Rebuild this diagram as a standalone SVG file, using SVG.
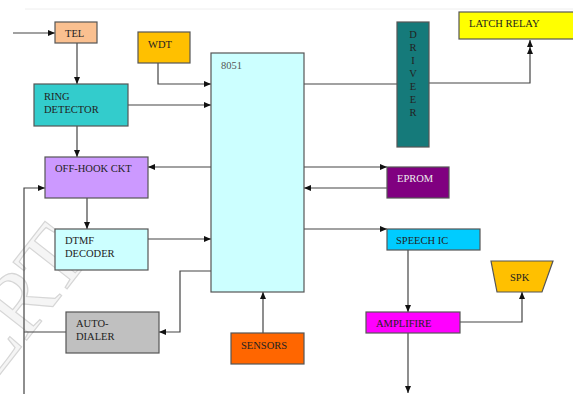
<svg xmlns="http://www.w3.org/2000/svg" width="573" height="394" viewBox="0 0 573 394">
<style>
.box{stroke:#555;stroke-width:1.2}
.t{font-family:"Liberation Serif","DejaVu Serif",serif;font-size:10.5px;fill:#222}
.ln{fill:none;stroke:#444;stroke-width:1.2}
.wm{font-family:"Liberation Serif",serif;font-size:90px;fill:#f5f5f5;stroke:#d6d6d6;stroke-width:1.2}
</style>
<defs>
<marker id="ah" markerWidth="8" markerHeight="8" refX="7" refY="4" orient="auto" markerUnits="userSpaceOnUse">
<path d="M0,1 L7,4 L0,7 Z" fill="#111"/>
</marker>
</defs>
<rect width="573" height="394" fill="#fff"/>
<line x1="25" y1="9" x2="573" y2="9" stroke="#eee" stroke-width="1"/>
<text class="wm" transform="translate(-9,386) rotate(-52)">ERT</text>

<g id="connectors">
<line class="ln" x1="13" y1="33" x2="55" y2="33" marker-end="url(#ah)"/>
<line class="ln" x1="77" y1="43" x2="77" y2="84" marker-end="url(#ah)"/>
<polyline class="ln" points="158,63 158,84 211,84" marker-end="url(#ah)"/>
<line class="ln" x1="128" y1="105" x2="211" y2="105" marker-end="url(#ah)"/>
<line class="ln" x1="304" y1="84" x2="397" y2="84"/>
<polyline class="ln" points="429,83 530,83 530,47" marker-end="url(#ah)"/>
<line class="ln" x1="530" y1="47" x2="530" y2="40" marker-end="url(#ah)"/>
<line class="ln" x1="77" y1="126" x2="77" y2="157" marker-end="url(#ah)"/>
<line class="ln" x1="211" y1="167" x2="148" y2="167" marker-end="url(#ah)"/>
<polyline class="ln" points="24,394 24,188 45,188" marker-end="url(#ah)"/>
<line class="ln" x1="87" y1="198" x2="87" y2="229" marker-end="url(#ah)"/>
<line class="ln" x1="148" y1="239" x2="211" y2="239" marker-end="url(#ah)"/>
<line class="ln" x1="304" y1="167" x2="387" y2="167" marker-end="url(#ah)"/>
<line class="ln" x1="387" y1="188" x2="304" y2="188" marker-end="url(#ah)"/>
<line class="ln" x1="304" y1="229" x2="387" y2="229" marker-end="url(#ah)"/>
<line class="ln" x1="408" y1="250" x2="408" y2="312" marker-end="url(#ah)"/>
<line class="ln" x1="408" y1="333" x2="408" y2="393" marker-end="url(#ah)"/>
<polyline class="ln" points="460,322 522,322 522,292" marker-end="url(#ah)"/>
<line class="ln" x1="263" y1="333" x2="263" y2="292" marker-end="url(#ah)"/>
<polyline class="ln" points="211,271 180,271 180,332 159,332" marker-end="url(#ah)"/>
<line class="ln" x1="66" y1="332" x2="24" y2="332"/>
</g>

<g id="tel"><rect class="box" x="55" y="22" width="42" height="21" fill="#FAC090"/><text class="t" x="65" y="37">TEL</text></g>
<g id="wdt"><rect class="box" x="138" y="32" width="52" height="31" fill="#FFC000"/><text class="t" x="148" y="48">WDT</text></g>
<g id="ring"><rect class="box" x="34" y="84" width="94" height="42" fill="#33CCCC"/><text class="t" x="44" y="100">RING</text><text class="t" x="44" y="113">DETECTOR</text></g>
<g id="mcu"><rect class="box" x="211" y="53" width="93" height="239" fill="#CCFFFF"/><text class="t" x="221" y="69" style="fill:#555">8051</text></g>
<g id="driver"><rect class="box" x="397" y="22" width="32" height="125" fill="#157A7A"/>
<g class="t" text-anchor="middle"><text x="413" y="38">D</text><text x="413" y="51">R</text><text x="413" y="64">I</text><text x="413" y="77">V</text><text x="413" y="90">E</text><text x="413" y="103">E</text><text x="413" y="116">R</text></g></g>
<g id="latch"><rect class="box" x="459" y="12" width="116" height="27" fill="#FFFF00"/><text class="t" x="469" y="27">LATCH RELAY</text></g>
<g id="offhook"><rect class="box" x="45" y="157" width="103" height="41" fill="#CC99FF"/><text class="t" x="55" y="172">OFF-HOOK  CKT</text></g>
<g id="dtmf"><rect class="box" x="55" y="229" width="93" height="41" fill="#CCFFFF"/><text class="t" x="65" y="244">DTMF</text><text class="t" x="65" y="257">DECODER</text></g>
<g id="eprom"><rect class="box" x="387" y="167" width="62" height="31" fill="#800080"/><text class="t" x="397" y="182" style="fill:#eee">EPROM</text></g>
<g id="speech"><rect class="box" x="387" y="229" width="93" height="21" fill="#00CCFF"/><text class="t" x="396" y="244">SPEECH IC</text></g>
<g id="spk"><polygon class="box" points="491,261 553,261 542,292 497,292" fill="#FFC000"/><text class="t" x="510" y="281">SPK</text></g>
<g id="amp"><rect class="box" x="366" y="312" width="94" height="21" fill="#FF00FF"/><text class="t" x="376" y="327">AMPLIFIRE</text></g>
<g id="sensors"><rect class="box" x="231" y="333" width="73" height="31" fill="#FF6600"/><text class="t" x="241" y="349">SENSORS</text></g>
<g id="autodialer"><rect class="box" x="66" y="312" width="93" height="41" fill="#C0C0C0"/><text class="t" x="76" y="327">AUTO-</text><text class="t" x="76" y="340">DIALER</text></g>
</svg>
